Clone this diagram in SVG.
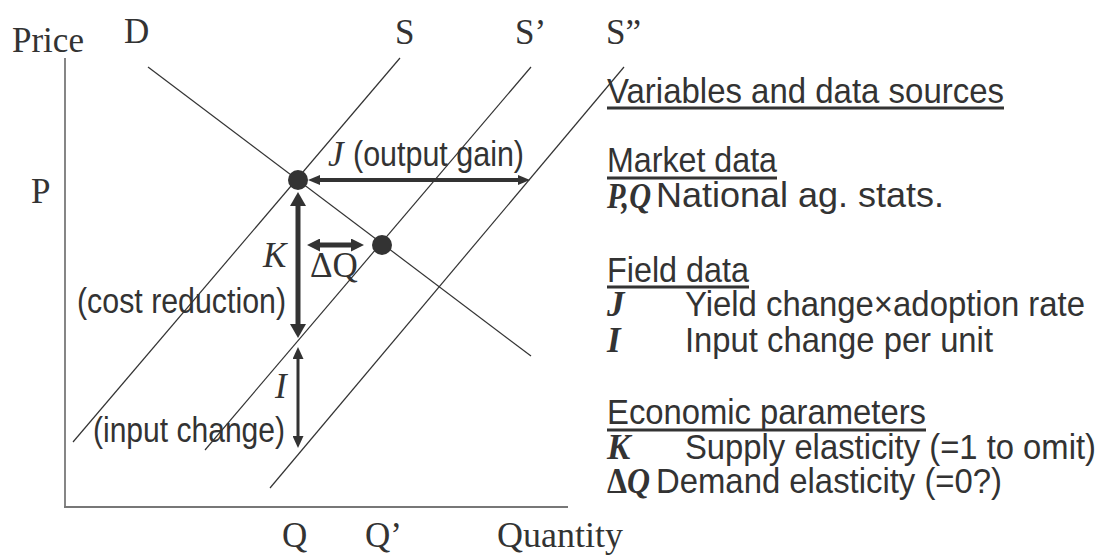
<svg xmlns="http://www.w3.org/2000/svg" width="1102" height="555" viewBox="0 0 1102 555">
<style>
.serif{font-family:"Liberation Serif","Times New Roman",serif;fill:#333;font-size:35px}
.it{font-style:italic}
.bi{font-style:italic;font-weight:bold}
.b{font-weight:bold}
.sans{font-family:"Liberation Sans",Arial,sans-serif;fill:#333;font-size:35px}
.thin{stroke:#333;stroke-width:1.2;fill:none}
.ul{stroke:#333;stroke-width:3}
.dot{fill:#333}
.arr{stroke:#333;fill:none}
.hd{fill:#333}
</style>
<defs>
<marker id="mJ" markerUnits="userSpaceOnUse" markerWidth="12" markerHeight="10" refX="2" refY="5" orient="auto-start-reverse"><path class="hd" d="M0,0 L12,5 L0,10 z"/></marker>
<marker id="mK" markerUnits="userSpaceOnUse" markerWidth="14" markerHeight="16" refX="2" refY="8" orient="auto-start-reverse"><path class="hd" d="M0,0 L14,8 L0,16 z"/></marker>
<marker id="mD" markerUnits="userSpaceOnUse" markerWidth="13" markerHeight="13" refX="2" refY="6.5" orient="auto-start-reverse"><path class="hd" d="M0,0 L13,6.5 L0,13 z"/></marker>
<marker id="mI" markerUnits="userSpaceOnUse" markerWidth="12" markerHeight="11" refX="2" refY="5.5" orient="auto-start-reverse"><path class="hd" d="M0,0 L12,5.5 L0,11 z"/></marker>
</defs>
<rect width="1102" height="555" fill="#fff"/>

<g id="axes">
<line x1="65" y1="58" x2="65" y2="507" stroke="#444" stroke-width="1.3"/>
<line x1="64" y1="507" x2="568" y2="507" stroke="#777" stroke-width="2.2"/>
<text class="serif" x="12" y="52">Price</text>
<text class="serif" x="31" y="203">P</text>
<text class="serif" x="282" y="547">Q</text>
<text class="serif" x="365" y="547">Q’</text>
<text class="serif" x="497" y="547" textLength="126" lengthAdjust="spacingAndGlyphs">Quantity</text>
</g>

<g id="curves">
<line class="thin" x1="148" y1="67" x2="531" y2="356"/>
<line class="thin" x1="400" y1="58" x2="73" y2="442"/>
<line class="thin" x1="531" y1="67" x2="205" y2="450"/>
<line class="thin" x1="624" y1="67" x2="270" y2="488"/>
<text class="serif" x="124" y="43">D</text>
<text class="serif" x="395" y="44">S</text>
<text class="serif" x="515" y="44">S’</text>
<text class="serif" x="606" y="44">S”</text>
</g>

<g id="equilibrium">
<circle class="dot" cx="298" cy="180" r="10"/>
</g>
<g id="new-equilibrium">
<circle class="dot" cx="382" cy="245" r="10"/>
</g>

<g id="connectors">
<line class="arr" x1="318" y1="180" x2="520" y2="180" stroke-width="4" marker-start="url(#mJ)" marker-end="url(#mJ)"/>
<line class="arr" x1="298" y1="204" x2="298" y2="326" stroke-width="5" marker-start="url(#mK)" marker-end="url(#mK)"/>
<line class="arr" x1="318" y1="245" x2="353" y2="245" stroke-width="5" marker-start="url(#mD)" marker-end="url(#mD)"/>
<line class="arr" x1="298" y1="357" x2="298" y2="438" stroke-width="3" marker-start="url(#mI)" marker-end="url(#mI)"/>
</g>

<g id="labels">
<text class="serif it" x="328" y="166">J</text>
<text class="sans" x="353" y="166" textLength="171" lengthAdjust="spacingAndGlyphs">(output gain)</text>
<text class="serif it" x="263" y="267">K</text>
<text class="serif" x="310" y="277">ΔQ</text>
<text class="sans" x="77" y="313" textLength="209" lengthAdjust="spacingAndGlyphs">(cost reduction)</text>
<text class="serif it" x="275" y="398">I</text>
<text class="sans" x="93" y="442" textLength="192" lengthAdjust="spacingAndGlyphs">(input change)</text>
</g>

<g id="legend">
<text class="sans" x="607" y="103" textLength="397" lengthAdjust="spacingAndGlyphs">Variables and data sources</text>
<line class="ul" x1="607" y1="108" x2="1004" y2="108"/>
<text class="sans" x="607" y="172" textLength="170" lengthAdjust="spacingAndGlyphs">Market data</text>
<line class="ul" x1="607" y1="178" x2="777" y2="178"/>
<text class="serif bi" x="607" y="208" textLength="44" lengthAdjust="spacingAndGlyphs">P,Q</text>
<text class="sans" x="656" y="207" textLength="288" lengthAdjust="spacingAndGlyphs">National ag. stats.</text>
<text class="sans" x="607" y="282" textLength="142" lengthAdjust="spacingAndGlyphs">Field data</text>
<line class="ul" x1="607" y1="287" x2="749" y2="287"/>
<text class="serif bi" x="607" y="316">J</text>
<text class="sans" x="685" y="316" textLength="400" lengthAdjust="spacingAndGlyphs">Yield change×adoption rate</text>
<text class="serif bi" x="607" y="352">I</text>
<text class="sans" x="685" y="352" textLength="308" lengthAdjust="spacingAndGlyphs">Input change per unit</text>
<text class="sans" x="607" y="424" textLength="319" lengthAdjust="spacingAndGlyphs">Economic parameters</text>
<line class="ul" x1="607" y1="430" x2="926" y2="430"/>
<text class="serif bi" x="607" y="459">K</text>
<text class="sans" x="685" y="459" textLength="411" lengthAdjust="spacingAndGlyphs">Supply elasticity (=1 to omit)</text>
<text class="serif b" x="607" y="493" textLength="43" lengthAdjust="spacingAndGlyphs">Δ<tspan class="bi">Q</tspan></text>
<text class="sans" x="656" y="493" textLength="346" lengthAdjust="spacingAndGlyphs">Demand elasticity (=0?)</text>
</g>
</svg>
